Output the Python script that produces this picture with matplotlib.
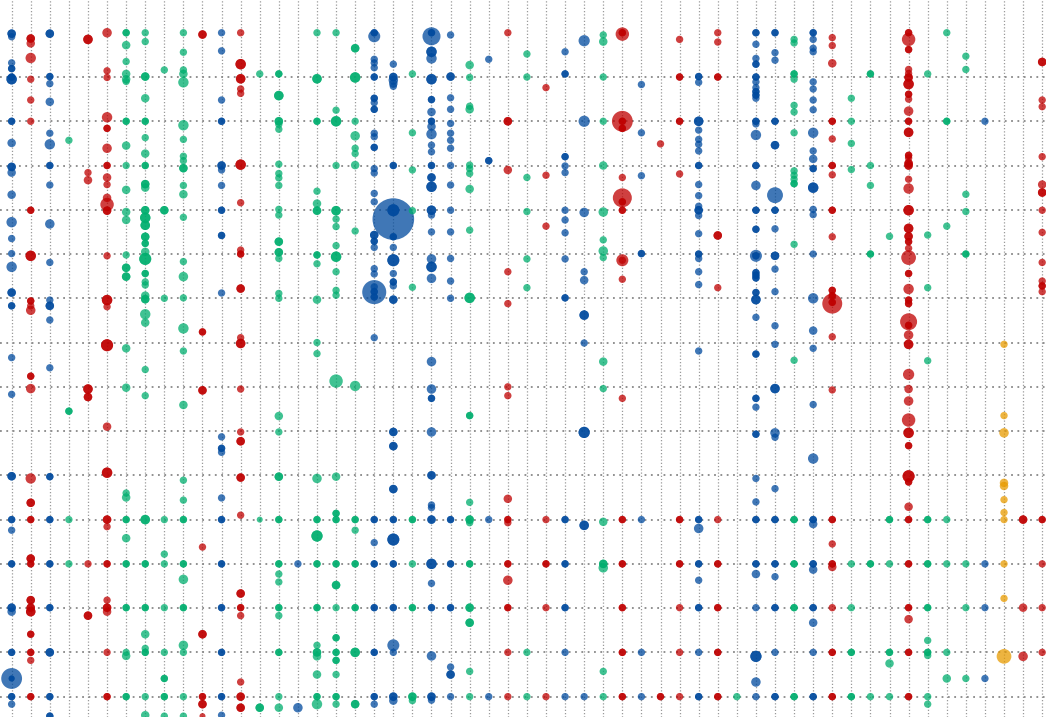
import numpy as np
import matplotlib
matplotlib.use("Agg")
from matplotlib import pyplot as plt

# each point: (column, row, size value, overlapping records)
blue_pts = [
    (0, 0.02, 2, 2), (0, 0.09, 1.5, 1), (0, 0.68, 1.5, 1), (0, 0.81, 1.5, 2), (0, 1.05, 3, 2), (0, 1.0, 1.5, 2),
    (0, 2.0, 1.5, 2), (0, 2.49, 2, 1), (0, 3.03, 2, 2), (0, 3.16, 2, 1), (0, 3.66, 2, 1), (0, 4.28, 3, 1),
    (0, 4.65, 1.5, 1), (0, 4.99, 1.5, 1), (0, 5.29, 3, 1), (0, 5.87, 2, 2), (0, 6.17, 1.5, 2), (0, 7.34, 1.5, 1),
    (0, 8.17, 1.5, 1), (0, 10.02, 2, 2), (0, 11.0, 1.5, 2), (0, 11.24, 1.5, 1), (0, 12.0, 1.5, 2),
    (0, 12.99, 2, 2), (0, 13.08, 2, 1), (0, 14.0, 1.5, 2), (0, 14.59, 12, 1), (0, 14.59, 1, 2), (0, 15.0, 1.5, 2),
    (0, 15.17, 1.5, 1),
    (2, 0.02, 2, 2), (2, 0.99, 1.5, 2), (2, 1.15, 1.5, 1), (2, 1.56, 2, 1), (2, 2.27, 1.5, 1), (2, 2.52, 3, 1),
    (2, 3.0, 1.5, 2), (2, 3.44, 1.5, 1), (2, 4.32, 2.5, 1), (2, 5.19, 1.5, 1), (2, 6.04, 1.5, 1), (2, 6.17, 2, 2),
    (2, 6.49, 1.5, 1), (2, 7.57, 1.5, 1), (2, 10.03, 1.5, 2), (2, 11.0, 1.5, 2), (2, 12.0, 1.5, 2),
    (2, 12.99, 1.5, 2), (2, 14.0, 2, 2), (2, 15.0, 1.5, 2), (2, 15.44, 1.5, 2),
    (11, 0.0, 1.5, 1), (11, 0.41, 1.5, 1), (11, 1.52, 1.5, 1), (11, 2.0, 1.5, 2), (11, 3.0, 2, 2), (11, 3.1, 1.5, 1),
    (11, 3.45, 1.5, 1), (11, 4.01, 1.5, 2), (11, 4.58, 1.5, 2), (11, 5.88, 1.5, 1), (11, 9.13, 1.5, 1),
    (11, 9.39, 1.5, 2), (11, 9.48, 1.5, 1), (11, 10.51, 1.5, 1), (11, 11.0, 1.5, 2), (11, 12.0, 1.5, 2),
    (11, 12.99, 1.5, 2), (11, 14.0, 1.5, 2), (11, 15.0, 1.5, 2), (11, 15.42, 1.5, 1),
    (15, 12.0, 1.5, 1), (15, 15.25, 2.5, 1),
    (19, 0.08, 4, 1), (19, 0.0, 1.5, 2), (19, 0.6, 1.5, 1), (19, 0.68, 1.5, 1), (19, 0.79, 1.5, 1), (19, 1.0, 1.5, 2),
    (19, 1.48, 1.5, 2), (19, 1.58, 1.5, 1), (19, 1.73, 1.5, 2), (19, 2.27, 1.5, 1), (19, 2.35, 1.5, 1),
    (19, 2.59, 1.5, 2), (19, 3.07, 1.5, 1), (19, 3.17, 1.5, 1), (19, 3.63, 1.5, 1), (19, 3.82, 1.5, 1),
    (19, 4.57, 2, 2), (19, 4.71, 1.5, 2), (19, 4.85, 1.5, 1), (19, 5.33, 1.5, 1), (19, 5.45, 1.5, 1),
    (19, 5.86, 16, 1), (19, 5.74, 1.5, 1), (19, 5.85, 1.5, 2), (19, 5.97, 1.5, 2), (19, 6.89, 1.5, 1),
    (19, 11.0, 1.5, 2), (19, 11.52, 1.5, 1), (19, 12.0, 1.5, 2), (19, 12.99, 1.5, 2), (19, 14.0, 1.5, 2),
    (19, 15.0, 1.5, 2), (19, 15.17, 1.5, 1),
    (20, 0.71, 1.5, 1), (20, 1.0, 2, 2), (20, 1.07, 2.5, 1), (20, 1.15, 2, 1), (20, 1.21, 1.5, 1), (20, 3.0, 1.5, 2),
    (20, 4.21, 48, 1), (20, 4.01, 4, 2), (20, 4.61, 1.5, 2), (20, 4.85, 1.5, 1), (20, 5.14, 4, 2),
    (20, 5.44, 1.5, 1), (20, 5.63, 1.5, 2), (20, 5.72, 1.5, 1), (20, 6.03, 2, 2), (20, 9.02, 2, 2), (20, 9.34, 2, 2),
    (20, 10.31, 2, 2), (20, 11.0, 1.5, 2), (20, 11.45, 4, 2), (20, 12.0, 1.5, 2), (20, 12.99, 1.5, 2),
    (20, 13.84, 4, 1), (20, 14.0, 1.5, 1), (20, 15.0, 2, 2), (20, 15.09, 2, 1),
    (22, 0.08, 9, 1), (22, 0.0, 1.5, 2), (22, 0.43, 3, 2), (22, 0.58, 3, 1), (22, 1.05, 3, 2), (22, 1.51, 1.5, 2),
    (22, 1.79, 2, 1), (22, 2.0, 1.5, 2), (22, 2.12, 2, 1), (22, 2.29, 3, 1), (22, 2.54, 1.5, 1), (22, 2.69, 1.5, 1),
    (22, 3.0, 1.5, 2), (22, 3.27, 2, 2), (22, 3.48, 3, 2), (22, 4.01, 2.5, 2), (22, 4.12, 1.5, 1), (22, 4.5, 1.5, 1),
    (22, 5.11, 2.5, 1), (22, 5.29, 3, 2), (22, 5.55, 2.5, 1), (22, 7.43, 2.5, 1), (22, 8.05, 2.5, 1),
    (22, 8.26, 1.5, 2), (22, 9.02, 2.5, 1), (22, 10.0, 2, 2), (22, 10.67, 1.5, 1), (22, 10.73, 1.5, 1),
    (22, 11.0, 2, 2), (22, 12.0, 3, 2), (22, 12.44, 1.5, 1), (22, 12.99, 1.5, 2), (22, 14.08, 2.5, 1),
    (22, 15.0, 2, 2), (22, 15.08, 1.5, 1),
    (23, 0.05, 1.5, 1), (23, 0.99, 2, 2), (23, 1.47, 1.5, 1), (23, 1.73, 1.5, 1), (23, 2.05, 1.5, 1),
    (23, 2.27, 1.5, 1), (23, 2.43, 1.5, 1), (23, 2.61, 1.5, 1), (23, 3.0, 1.5, 1), (23, 3.44, 1.5, 1),
    (23, 4.01, 1.5, 1), (23, 4.5, 1.5, 1), (23, 5.1, 1.5, 1), (23, 5.61, 1.5, 1), (23, 6.0, 1.5, 1),
    (23, 11.0, 1.5, 2), (23, 12.0, 1.5, 2), (23, 12.99, 1.5, 2), (23, 14.33, 1.5, 1), (23, 14.5, 2, 2),
    (23, 15.0, 1.5, 1),
    (25, 0.6, 1.5, 1), (25, 2.89, 1.5, 2), (25, 11.0, 1.5, 1), (25, 15.0, 1.5, 1),
    (29, 0.43, 1.5, 1), (29, 0.93, 1.5, 2), (29, 2.8, 1.5, 2), (29, 3.01, 1.5, 1), (29, 3.16, 1.5, 1),
    (29, 4.01, 1.5, 1), (29, 4.23, 1.5, 1), (29, 4.52, 1.5, 1), (29, 5.11, 1.5, 1), (29, 5.99, 1.5, 2),
    (29, 11.0, 1.5, 2), (29, 12.0, 1.5, 2), (29, 12.99, 1.5, 2), (29, 14.0, 1.5, 1), (29, 15.0, 1.5, 1),
    (30, 0.18, 3.5, 1), (30, 2.0, 3.5, 1), (30, 4.06, 2.5, 1), (30, 5.4, 1.5, 1), (30, 5.59, 2, 1),
    (30, 6.38, 2.5, 2), (30, 7.01, 1.5, 1), (30, 9.03, 3.5, 2), (30, 11.13, 2.5, 2), (30, 15.0, 1.5, 1),
    (33, 1.17, 1.5, 1), (33, 2.26, 1.5, 1), (33, 3.23, 1.5, 1), (33, 4.99, 1.5, 2), (33, 11.0, 1.5, 1),
    (33, 14.0, 1.5, 1), (33, 15.0, 1.5, 1),
    (36, 0.99, 1.5, 2), (36, 1.12, 1.5, 1), (36, 2.0, 2.5, 2), (36, 2.2, 1.5, 1), (36, 2.41, 1.5, 1),
    (36, 2.52, 1.5, 1), (36, 2.67, 1.5, 1), (36, 3.0, 1.5, 2), (36, 3.43, 1.5, 1), (36, 3.68, 1.5, 1),
    (36, 3.92, 1.5, 1), (36, 4.01, 2, 2), (36, 4.13, 1.5, 1), (36, 4.54, 1.5, 1), (36, 5.0, 1.5, 2),
    (36, 5.1, 1.5, 1), (36, 5.4, 1.5, 1), (36, 5.69, 1.5, 1), (36, 7.19, 1.5, 1), (36, 11.0, 1.5, 2),
    (36, 11.2, 2.5, 1), (36, 12.0, 1.5, 2), (36, 12.37, 1.5, 1), (36, 12.99, 1.5, 2), (36, 14.0, 1.5, 1),
    (36, 15.0, 1.5, 2),
    (39, 0.0, 1.5, 2), (39, 0.26, 1.5, 1), (39, 0.58, 1.5, 1), (39, 0.71, 1.5, 2), (39, 1.0, 1.5, 2),
    (39, 1.11, 1.5, 1), (39, 1.24, 1.5, 1), (39, 1.33, 1.5, 2), (39, 1.41, 1.5, 2), (39, 1.48, 1.5, 1),
    (39, 2.0, 1.5, 2), (39, 2.06, 1.5, 1), (39, 2.31, 3, 1), (39, 3.0, 1.5, 2), (39, 3.45, 2.5, 1),
    (39, 4.01, 1.5, 2), (39, 4.44, 1.5, 2), (39, 5.04, 4, 1), (39, 5.04, 1.5, 2), (39, 5.42, 1.5, 2),
    (39, 5.48, 1.5, 2), (39, 5.54, 1.5, 2), (39, 5.87, 1.5, 2), (39, 6.03, 2.5, 2), (39, 6.43, 1.5, 1),
    (39, 7.26, 1.5, 2), (39, 8.26, 1.5, 2), (39, 8.46, 1.5, 1), (39, 9.07, 1.5, 2), (39, 10.07, 1.5, 1),
    (39, 10.6, 1.5, 1), (39, 11.0, 1.5, 2), (39, 12.0, 1.5, 2), (39, 12.23, 2, 1), (39, 12.99, 1.5, 1),
    (39, 14.09, 3.5, 2), (39, 14.67, 2.5, 1), (39, 15.0, 1.5, 1),
    (40, 0.0, 1.5, 2), (40, 0.45, 1.5, 1), (40, 0.62, 1.5, 1), (40, 2.0, 1.5, 2), (40, 2.54, 2, 2),
    (40, 3.67, 7, 1), (40, 4.01, 1.5, 2), (40, 4.43, 1.5, 1), (40, 5.04, 2, 2), (40, 5.34, 1.5, 1),
    (40, 5.85, 1.5, 1), (40, 6.62, 1.5, 1), (40, 7.04, 1.5, 1), (40, 8.04, 2.5, 2), (40, 9.04, 2.5, 1),
    (40, 9.14, 1.5, 1), (40, 10.3, 1.5, 1), (40, 11.0, 1.5, 2), (40, 12.0, 1.5, 2), (40, 12.29, 1.5, 1),
    (40, 12.99, 1.5, 2), (40, 14.0, 1.5, 1), (40, 15.0, 1.5, 2),
    (42, 0.0, 1.5, 2), (42, 0.15, 1.5, 1), (42, 0.35, 1.5, 1), (42, 0.43, 1.5, 1), (42, 1.11, 1.5, 1),
    (42, 1.27, 1.5, 1), (42, 1.52, 1.5, 1), (42, 1.74, 1.5, 1), (42, 2.26, 3, 1), (42, 2.67, 1.5, 1),
    (42, 2.85, 2, 1), (42, 3.07, 1.5, 2), (42, 3.5, 3, 2), (42, 3.99, 1.5, 1), (42, 4.11, 1.5, 1),
    (42, 5.0, 1.5, 1), (42, 6.0, 3, 1), (42, 6.73, 2, 1), (42, 7.13, 1.5, 1), (42, 8.4, 1.5, 1), (42, 9.62, 3, 1),
    (42, 11.0, 1.5, 2), (42, 11.1, 2, 1), (42, 12.0, 1.5, 2), (42, 12.13, 2, 1), (42, 12.99, 1.5, 2),
    (42, 13.33, 2, 1), (42, 14.0, 1.5, 1), (42, 15.0, 1.5, 2),
    (51, 2.0, 1.5, 1), (51, 12.0, 1.5, 1), (51, 12.99, 1.5, 1), (51, 14.59, 1.5, 1),
]

green_pts = [
    (3, 2.43, 1.5, 1), (3, 8.55, 1.5, 2), (3, 11.0, 1.5, 1), (3, 12.0, 1.5, 1),
    (6, 0.0, 1.5, 2), (6, 0.28, 2, 1), (6, 0.65, 1.5, 1), (6, 0.93, 2, 1), (6, 1.05, 2, 1), (6, 1.1, 1.5, 1),
    (6, 2.0, 1.5, 2), (6, 2.55, 2, 1), (6, 3.0, 1.5, 1), (6, 3.55, 2, 1), (6, 4.05, 2, 1), (6, 4.23, 2, 1),
    (6, 5.02, 1.5, 1), (6, 5.31, 2, 2), (6, 5.51, 2, 2), (6, 7.13, 2, 1), (6, 8.02, 2, 1), (6, 10.4, 1.5, 1),
    (6, 10.5, 2, 1), (6, 11.0, 1.5, 2), (6, 11.42, 2, 1), (6, 12.0, 1.5, 2), (6, 12.99, 1.5, 2), (6, 14.0, 1.5, 1),
    (6, 14.08, 2, 1), (6, 15.0, 1.5, 2),
    (7, 0.0, 1.5, 1), (7, 0.2, 1.5, 1), (7, 0.99, 2, 2), (7, 1.48, 2, 1), (7, 2.0, 1.5, 2), (7, 2.37, 1.5, 1),
    (7, 2.73, 2, 1), (7, 3.0, 1.5, 2), (7, 3.42, 2, 2), (7, 3.5, 2, 1), (7, 4.01, 2, 2), (7, 4.18, 3, 2),
    (7, 4.35, 2.5, 2), (7, 4.61, 2, 2), (7, 4.76, 1.5, 2), (7, 4.95, 2, 1), (7, 5.11, 4, 2), (7, 5.44, 1.5, 2),
    (7, 5.63, 1.5, 1), (7, 5.7, 1.5, 1), (7, 5.94, 2, 1), (7, 6.02, 2, 2), (7, 6.36, 3, 1), (7, 6.55, 2, 1),
    (7, 7.61, 1.5, 1), (7, 8.2, 1.5, 1), (7, 11.0, 2.5, 2), (7, 12.0, 1.5, 2), (7, 12.99, 1.5, 2),
    (7, 13.59, 2, 1), (7, 13.91, 1.5, 1), (7, 14.0, 1.5, 2), (7, 15.0, 1.5, 1), (7, 15.42, 2, 1),
    (8, 0.84, 1.5, 1), (8, 4.01, 2, 2), (8, 6.0, 1.5, 1), (8, 11.0, 1.5, 1), (8, 11.78, 1.5, 1), (8, 12.0, 1.5, 1),
    (8, 12.99, 1.5, 1), (8, 14.0, 1.5, 1), (8, 14.59, 1.5, 2), (8, 15.0, 1.5, 2), (8, 15.44, 1.5, 1),
    (9, 0.0, 1.5, 1), (9, 0.44, 1.5, 1), (9, 0.84, 1.5, 1), (9, 0.93, 2, 1), (9, 1.12, 3, 1), (9, 2.09, 3, 1),
    (9, 2.41, 1.5, 1), (9, 2.79, 1.5, 1), (9, 2.89, 1.5, 1), (9, 3.06, 2, 2), (9, 3.45, 1.5, 1), (9, 3.65, 2, 1),
    (9, 4.17, 1.5, 1), (9, 5.17, 1.5, 1), (9, 5.51, 2.5, 1), (9, 5.99, 1.5, 1), (9, 6.68, 3, 1), (9, 7.19, 1.5, 1),
    (9, 8.41, 2, 1), (9, 10.11, 1.5, 1), (9, 10.56, 1.5, 1), (9, 11.0, 1.5, 2), (9, 12.0, 1.5, 2),
    (9, 12.35, 2.5, 1), (9, 12.99, 1.5, 2), (9, 13.84, 2.5, 1), (9, 14.0, 1.5, 1), (9, 15.0, 1.5, 1),
    (9, 15.44, 1.5, 1),
    (13, 0.93, 1.5, 1), (13, 11.0, 1, 1), (13, 15.25, 2, 2),
    (14, 0.93, 1.5, 2), (14, 1.42, 2.5, 2), (14, 2.0, 2, 2), (14, 2.07, 1.5, 1), (14, 2.18, 1.5, 1),
    (14, 2.97, 1.5, 1), (14, 3.18, 1.5, 1), (14, 3.28, 1.5, 1), (14, 3.45, 1.5, 1), (14, 3.99, 1.5, 1),
    (14, 4.12, 1.5, 1), (14, 4.72, 2, 2), (14, 4.96, 2, 2), (14, 5.1, 1.5, 1), (14, 5.89, 1.5, 1), (14, 6.0, 1.5, 1),
    (14, 8.66, 2, 1), (14, 9.02, 1.5, 1), (14, 10.03, 2, 2), (14, 11.0, 1.5, 2), (14, 12.0, 1.5, 2),
    (14, 12.23, 1.5, 1), (14, 12.41, 1.5, 1), (14, 12.99, 1.5, 2), (14, 13.17, 1.5, 1), (14, 14.0, 1.5, 2),
    (14, 15.0, 1.5, 1), (14, 15.25, 2, 1),
    (16, 0.0, 1.5, 1), (16, 1.04, 2.5, 2), (16, 2.0, 1.5, 2), (16, 3.58, 1.5, 1), (16, 3.86, 2, 1),
    (16, 4.02, 2, 2), (16, 5.02, 1.5, 2), (16, 5.22, 1.5, 1), (16, 6.03, 2, 1), (16, 7.0, 1.5, 1),
    (16, 7.25, 1.5, 1), (16, 10.07, 2.5, 1), (16, 11.0, 1.5, 2), (16, 11.37, 3.5, 2), (16, 12.0, 1.5, 2),
    (16, 12.99, 1.5, 2), (16, 13.84, 1.5, 1), (16, 14.0, 2, 2), (16, 14.09, 2, 1), (16, 14.5, 2, 1),
    (16, 15.0, 1.5, 2), (16, 15.17, 3, 1),
    (17, 0.0, 1.5, 1), (17, 1.75, 1.5, 1), (17, 2.0, 3, 2), (17, 3.0, 1.5, 1), (17, 4.02, 2.5, 2),
    (17, 4.21, 1.5, 1), (17, 4.38, 1.5, 1), (17, 4.81, 1.5, 1), (17, 5.06, 3, 2), (17, 5.4, 1.5, 1),
    (17, 5.82, 1.5, 1), (17, 5.93, 1.5, 1), (17, 7.87, 5, 1), (17, 10.03, 2, 1), (17, 10.86, 1.5, 2),
    (17, 11.0, 1.5, 2), (17, 12.0, 1.5, 2), (17, 12.48, 2, 2), (17, 12.99, 1.5, 1), (17, 13.67, 1.5, 2),
    (17, 14.0, 1.5, 2), (17, 14.18, 1.5, 2), (17, 14.5, 1.5, 1), (17, 15.0, 1.5, 2), (17, 15.17, 1.5, 1),
    (18, 0.35, 2, 2), (18, 1.01, 3, 2), (18, 2.0, 1.5, 1), (18, 2.33, 2.5, 1), (18, 2.61, 1.5, 1),
    (18, 2.73, 1.5, 1), (18, 2.99, 2, 1), (18, 4.48, 1.5, 1), (18, 7.98, 3, 1), (18, 11.0, 1.5, 2),
    (18, 11.24, 1.5, 1), (18, 12.0, 1.5, 2), (18, 12.99, 1.5, 2), (18, 14.0, 2.5, 2), (18, 15.17, 2, 2),
    (21, 0.93, 1.5, 1), (21, 2.26, 1.5, 1), (21, 3.1, 1.5, 1), (21, 4.02, 1.5, 1), (21, 5.75, 1.5, 1),
    (21, 11.0, 1.5, 2), (21, 12.0, 1.5, 1), (21, 12.99, 1.5, 2), (21, 15.0, 2, 2), (21, 15.09, 1.5, 1),
    (24, 0.73, 2, 1), (24, 1.01, 1.5, 1), (24, 1.66, 1.5, 1), (24, 1.73, 2, 1), (24, 2.99, 1.5, 1),
    (24, 3.07, 1.5, 1), (24, 3.18, 1.5, 1), (24, 3.53, 2, 1), (24, 4.46, 1.5, 1), (24, 5.99, 3, 2),
    (24, 8.65, 1.5, 2), (24, 10.61, 1.5, 1), (24, 11.0, 2, 2), (24, 11.07, 1.5, 1), (24, 12.0, 1.5, 2),
    (24, 12.99, 2, 2), (24, 13.33, 2, 2), (24, 14.43, 1.5, 1), (24, 15.0, 1.5, 1),
    (27, 0.48, 1.5, 1), (27, 1.0, 1.5, 1), (27, 3.27, 1.5, 1), (27, 4.04, 1.5, 1), (27, 5.11, 1.5, 1),
    (27, 5.76, 1.5, 1), (27, 14.0, 1.5, 1), (27, 15.0, 1.5, 1),
    (31, 0.05, 1.5, 1), (31, 0.2, 2, 1), (31, 1.0, 1.5, 1), (31, 2.0, 1.5, 1), (31, 3.0, 2, 1), (31, 4.05, 2.5, 1),
    (31, 4.68, 1.5, 1), (31, 4.93, 2.5, 1), (31, 5.08, 1.5, 1), (31, 7.43, 2, 1), (31, 8.04, 1.5, 1),
    (31, 11.05, 2, 1), (31, 12.0, 2, 2), (31, 12.09, 2.5, 1), (31, 14.43, 1.5, 1), (31, 15.0, 1.5, 1),
    (38, 15.0, 1.5, 1),
    (41, 0.15, 1.5, 1), (41, 0.23, 1.5, 1), (41, 0.93, 1.5, 2), (41, 1.05, 1.5, 1), (41, 1.64, 1.5, 1),
    (41, 1.79, 1.5, 1), (41, 2.26, 1.5, 1), (41, 3.12, 1.5, 1), (41, 3.22, 1.5, 1), (41, 3.31, 1.5, 1),
    (41, 3.41, 1.5, 2), (41, 4.78, 1.5, 1), (41, 7.4, 1.5, 1), (41, 11.0, 1.5, 2), (41, 12.0, 1.5, 2),
    (41, 12.99, 1.5, 2), (41, 15.0, 1.5, 2),
    (44, 1.48, 1.5, 1), (44, 2.0, 1.5, 1), (44, 2.5, 1.5, 1), (44, 3.09, 1.5, 1), (44, 12.0, 1.5, 1),
    (44, 12.99, 1.5, 1), (44, 14.0, 1.5, 2), (44, 15.0, 1.5, 2),
    (45, 0.93, 1.5, 2), (45, 3.0, 1.5, 1), (45, 3.45, 1.5, 1), (45, 5.0, 1.5, 2), (45, 12.0, 1.5, 2),
    (45, 15.0, 1.5, 1),
    (46, 4.6, 1.5, 1), (46, 11.0, 1.5, 2), (46, 12.0, 1.5, 1), (46, 14.0, 1.5, 2), (46, 14.25, 2, 1),
    (46, 15.0, 1.5, 1),
    (48, 0.93, 1.5, 1), (48, 4.57, 1.5, 1), (48, 5.76, 1.5, 1), (48, 7.41, 1.5, 1), (48, 11.0, 1.5, 2),
    (48, 12.0, 1.5, 2), (48, 12.99, 1.5, 2), (48, 13.73, 1.5, 1), (48, 14.0, 1.5, 2), (48, 14.07, 1.5, 1),
    (48, 15.0, 1.5, 1), (48, 15.17, 1.5, 1),
    (49, 0.0, 1.5, 1), (49, 2.0, 1.5, 2), (49, 4.37, 1.5, 1), (49, 11.0, 1.5, 1), (49, 12.0, 1.5, 1),
    (49, 14.0, 1.5, 1), (49, 14.59, 2, 1),
    (50, 0.53, 1.5, 1), (50, 0.83, 1.5, 1), (50, 3.65, 1.5, 1), (50, 4.04, 1.5, 1), (50, 5.0, 1.5, 2),
    (50, 12.0, 1.5, 1), (50, 12.99, 1.5, 1), (50, 14.59, 1.5, 1),
]

red_pts = [
    (1, 0.13, 2, 2), (1, 0.24, 2, 1), (1, 0.57, 3, 1), (1, 1.05, 1.5, 1), (1, 1.52, 1.5, 1), (1, 2.0, 1.5, 1),
    (1, 4.01, 1.5, 2), (1, 5.04, 3, 2), (1, 6.06, 1.5, 2), (1, 6.17, 1.5, 1), (1, 6.27, 2.5, 1), (1, 7.76, 1.5, 2),
    (1, 8.04, 2.5, 1), (1, 10.07, 3, 1), (1, 10.62, 2, 2), (1, 11.0, 1.5, 2), (1, 11.88, 2, 2), (1, 12.0, 1.5, 2),
    (1, 12.82, 2, 2), (1, 12.99, 2, 2), (1, 13.08, 2.5, 2), (1, 13.59, 1.5, 2), (1, 14.0, 1.5, 2),
    (1, 14.18, 1.5, 1), (1, 15.0, 1.5, 2),
    (4, 0.15, 2.5, 2), (4, 3.16, 1.5, 1), (4, 3.33, 2, 1), (4, 8.05, 2.5, 2), (4, 8.23, 2, 2), (4, 12.0, 1.5, 1),
    (4, 13.17, 2, 2),
    (5, 0.0, 2.5, 1), (5, 0.86, 1.5, 1), (5, 1.01, 1.5, 1), (5, 1.91, 3, 1), (5, 2.16, 1.5, 2), (5, 2.61, 2.5, 1),
    (5, 3.0, 1.5, 2), (5, 3.27, 2, 1), (5, 3.43, 1.5, 1), (5, 3.73, 2, 1), (5, 3.88, 5, 1), (5, 4.02, 2, 2),
    (5, 5.04, 1.5, 1), (5, 6.04, 3, 2), (5, 6.19, 1.5, 1), (5, 7.06, 4, 2), (5, 8.9, 2, 1), (5, 9.94, 3, 2),
    (5, 11.0, 2, 2), (5, 11.16, 1.5, 1), (5, 12.0, 1.5, 2), (5, 12.82, 1.5, 1), (5, 12.99, 2, 2), (5, 13.08, 2, 1),
    (5, 14.0, 1.5, 1), (5, 15.0, 1.5, 2),
    (10, 0.04, 2, 2), (10, 6.76, 1.5, 2), (10, 8.08, 2, 2), (10, 11.62, 1.5, 1), (10, 13.59, 2, 2),
    (10, 15.0, 1.5, 2), (10, 15.17, 2, 2), (10, 15.44, 1, 1),
    (12, 0.0, 1.5, 1), (12, 0.71, 3, 2), (12, 1.04, 2.5, 2), (12, 1.27, 1.5, 1), (12, 1.37, 1.5, 1),
    (12, 2.98, 3, 2), (12, 3.84, 1.5, 1), (12, 4.91, 1.5, 1), (12, 5.0, 1.5, 2), (12, 5.78, 2, 2),
    (12, 6.89, 1.5, 1), (12, 7.02, 2.5, 2), (12, 8.05, 1.5, 1), (12, 9.02, 1.5, 1), (12, 9.23, 2, 2),
    (12, 10.05, 2, 2), (12, 10.9, 1.5, 1), (12, 12.67, 2, 2), (12, 12.99, 1.5, 2), (12, 13.17, 1.5, 1),
    (12, 14.67, 1.5, 1), (12, 15.0, 2, 2), (12, 15.25, 2, 2),
    (26, 0.0, 1.5, 1), (26, 2.0, 2, 2), (26, 3.1, 2, 1), (26, 5.4, 1.5, 1), (26, 6.12, 1.5, 1), (26, 8.0, 1.5, 1),
    (26, 8.2, 1.5, 1), (26, 10.53, 2, 1), (26, 11.0, 1.5, 2), (26, 11.07, 1.5, 1), (26, 12.0, 1.5, 2),
    (26, 12.37, 2.5, 1), (26, 12.99, 1.5, 2), (26, 14.0, 1.5, 1), (26, 15.0, 1.5, 1),
    (28, 1.24, 1.5, 1), (28, 3.22, 1.5, 1), (28, 4.37, 1.5, 1), (28, 11.0, 1.5, 1), (28, 12.0, 1.5, 2),
    (28, 12.99, 1.5, 1), (28, 15.0, 1.5, 1),
    (32, 0.03, 5, 1), (32, 0.0, 1.5, 2), (32, 2.0, 12, 1), (32, 2.0, 1.5, 2), (32, 2.16, 1.5, 2),
    (32, 3.27, 1.5, 1), (32, 3.73, 10, 1), (32, 3.82, 1.5, 2), (32, 4.01, 1.5, 2), (32, 5.14, 4, 1),
    (32, 5.14, 1.5, 1), (32, 5.57, 1.5, 1), (32, 8.26, 1.5, 1), (32, 11.0, 1.5, 2), (32, 12.0, 1.5, 2),
    (32, 12.99, 1.5, 2), (32, 14.0, 1.5, 2), (32, 15.0, 1.5, 2),
    (34, 2.51, 1.5, 1), (34, 15.0, 1.5, 2),
    (35, 0.15, 1.5, 1), (35, 1.0, 1.5, 2), (35, 2.0, 1.5, 2), (35, 3.19, 1.5, 1), (35, 11.0, 1.5, 2),
    (35, 12.0, 1.5, 2), (35, 12.99, 1.5, 1), (35, 14.0, 1.5, 1), (35, 15.0, 1.5, 1),
    (37, 0.0, 1.5, 1), (37, 0.21, 1.5, 1), (37, 1.0, 1.5, 2), (37, 4.58, 2, 2), (37, 5.76, 1.5, 1),
    (37, 11.0, 1.5, 1), (37, 12.0, 1.5, 2), (37, 12.99, 1.5, 2), (37, 14.0, 1.5, 2), (37, 15.0, 1.5, 2),
    (43, 0.11, 1.5, 1), (43, 0.29, 1.5, 1), (43, 0.69, 2, 1), (43, 2.0, 1.5, 2), (43, 2.4, 1.5, 1),
    (43, 3.0, 1.5, 2), (43, 3.21, 1.5, 1), (43, 4.01, 1.5, 2), (43, 4.61, 1.5, 1), (43, 5.82, 1.5, 2),
    (43, 6.12, 11, 1), (43, 6.09, 1.5, 2), (43, 5.94, 1.5, 2), (43, 6.87, 1.5, 1), (43, 8.07, 1.5, 1),
    (43, 11.0, 1.5, 2), (43, 11.55, 1.5, 1), (43, 12.0, 1.5, 2), (43, 12.07, 2, 1), (43, 12.99, 1.5, 1),
    (43, 14.0, 1.5, 2), (43, 15.0, 1.5, 2),
    (47, 0.0, 1.5, 2), (47, 0.15, 5, 1), (47, 0.38, 1.5, 2), (47, 0.83, 1.5, 1), (47, 0.92, 1.5, 1),
    (47, 1.01, 2, 2), (47, 1.16, 3, 2), (47, 1.39, 1.5, 2), (47, 1.5, 1.5, 1), (47, 1.77, 2.5, 1),
    (47, 2.0, 1.5, 2), (47, 2.25, 2.5, 2), (47, 2.77, 1.5, 2), (47, 2.83, 1.5, 1), (47, 2.95, 2, 2),
    (47, 3.0, 2, 2), (47, 3.31, 1.5, 1), (47, 3.52, 3, 1), (47, 4.01, 3, 2), (47, 4.42, 2.5, 2), (47, 4.6, 2, 2),
    (47, 4.72, 1.5, 2), (47, 4.87, 1.5, 1), (47, 5.08, 6, 1), (47, 5.44, 1.5, 2), (47, 5.79, 3, 1),
    (47, 6.04, 1.5, 2), (47, 6.12, 1.5, 2), (47, 6.53, 8, 1), (47, 6.61, 1.5, 2), (47, 6.83, 2.5, 1),
    (47, 7.04, 2.5, 2), (47, 7.72, 3.5, 1), (47, 8.05, 2, 1), (47, 8.32, 2.5, 1), (47, 8.75, 5, 1),
    (47, 9.04, 3, 2), (47, 9.33, 1.5, 2), (47, 10.02, 4, 2), (47, 10.15, 1.5, 2), (47, 10.71, 2, 1),
    (47, 11.0, 1.5, 2), (47, 12.0, 1.5, 2), (47, 12.99, 1.5, 2), (47, 13.25, 2, 1), (47, 14.0, 1.5, 2),
    (47, 15.0, 1.5, 2),
    (53, 11.0, 2, 2), (53, 12.99, 2, 1), (53, 14.09, 2.5, 1),
    (54, 0.66, 2, 2), (54, 1.52, 1.5, 1), (54, 1.67, 1.5, 1), (54, 2.8, 1.5, 1), (54, 3.43, 2, 1),
    (54, 3.61, 2, 2), (54, 4.01, 1.5, 1), (54, 4.51, 1.5, 1), (54, 5.19, 1.5, 1), (54, 5.61, 1.5, 1),
    (54, 5.72, 1.5, 2), (54, 5.85, 1.5, 1), (54, 11.0, 1.5, 2), (54, 12.0, 1.5, 1), (54, 12.99, 1.5, 1),
    (54, 14.0, 1.5, 1),
]

orange_pts = [
    (52, 7.04, 1.5, 1), (52, 8.65, 1.5, 1), (52, 9.04, 2.5, 1), (52, 10.17, 2, 1), (52, 10.24, 2, 1),
    (52, 10.55, 1.5, 1), (52, 10.84, 1.5, 1), (52, 11.0, 1.5, 1), (52, 12.0, 1.5, 1), (52, 12.78, 1.5, 1),
    (52, 14.09, 6, 1),
]

n_cols = 55
n_rows = 15

series = [
    (blue_pts, "#004a9e"),
    (green_pts, "#00ae6e"),
    (red_pts, "#bf0000"),
    (orange_pts, "#e89b00"),
]

fig = plt.figure(figsize=(10.46, 7.17), dpi=100)
ax = fig.add_axes([0, 0, 1, 1])

# grid: fine dotted columns, coarser dotted rows
for c in range(n_cols):
    ax.axvline(c, color="#9a9a9a", lw=0.9, linestyle=(0, (1, 1.6)), zorder=1)
for r in range(1, n_rows + 1):
    ax.axhline(r, color="#888888", lw=1.3, linestyle=(0, (1, 2.5)), zorder=1)

area = 18.7  # points^2 per unit of size value

for pts, col in series:
    d = np.array(pts, dtype=float)
    x, y, n, k = d[:, 0], d[:, 1], d[:, 2], d[:, 3]
    order = np.argsort(-n)  # big bubbles underneath
    ax.scatter(x[order], y[order], s=n[order] * area, color=col, alpha=0.75,
               linewidths=0, zorder=3)
    m = k >= 2
    ax.scatter(x[m], y[m], s=n[m] * area, color=col, alpha=0.75,
               linewidths=0, zorder=4)

ax.set_xlim(-0.61, 54.2)
ax.set_ylim(15.46, -0.74)
ax.axis("off")

fig.savefig("out.png", dpi=100)
